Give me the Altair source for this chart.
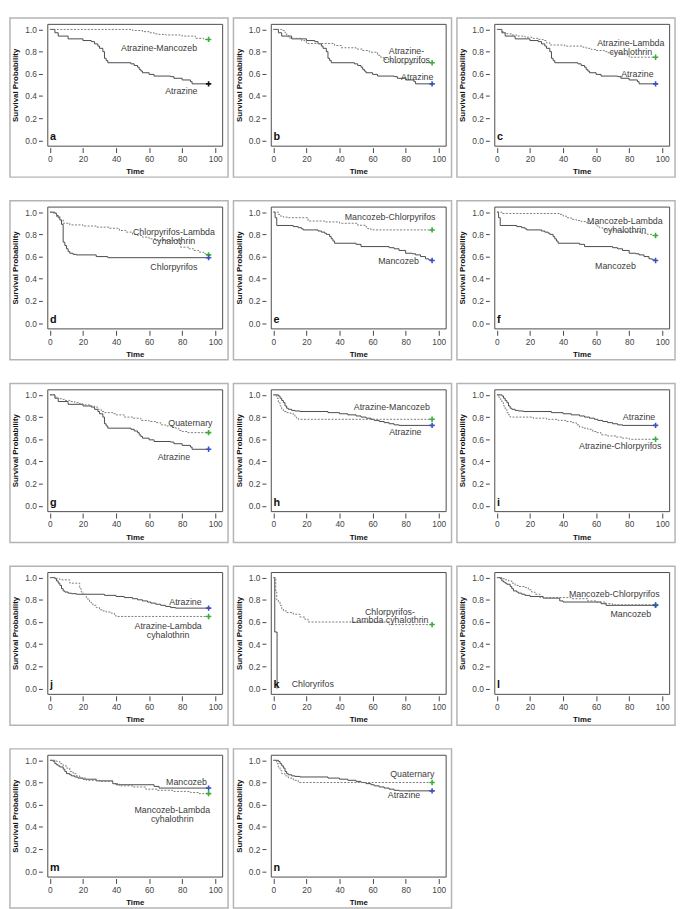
import altair as alt
import pandas as pd

# ---------------- Kaplan-Meier step curves (time, survival) ----------------
atz1_t = [0, 3, 5, 11, 20, 25, 27, 29, 30, 32, 33, 34, 35, 49, 51, 53, 54, 55, 56, 60, 63, 73, 75, 80, 85, 86, 96]
atz1_s = [1.0, 0.97, 0.94, 0.915, 0.90, 0.89, 0.87, 0.85, 0.83, 0.80, 0.74, 0.72, 0.70, 0.69, 0.675, 0.66, 0.64, 0.625, 0.61, 0.595, 0.58, 0.575, 0.56, 0.545, 0.53, 0.51, 0.51]

amz1_t = [0, 50, 56, 60, 63, 66, 70, 80, 88, 93, 96]
amz1_s = [1.0, 0.99, 0.98, 0.97, 0.96, 0.955, 0.95, 0.94, 0.92, 0.91, 0.91]

ach1_t = [0, 5, 7, 8, 9, 10, 17, 19, 20, 37, 41, 50, 54, 58, 63, 65, 67, 70, 72, 96]
ach1_s = [1.0, 0.99, 0.97, 0.95, 0.93, 0.92, 0.90, 0.89, 0.873, 0.855, 0.835, 0.823, 0.81, 0.795, 0.767, 0.746, 0.73, 0.717, 0.70, 0.70]

alc1_t = [0, 3, 4, 6, 9, 12, 17, 21, 25, 28, 30, 32, 41, 52, 54, 57, 60, 65, 67, 75, 79, 80, 96]
alc1_s = [1.0, 0.98, 0.97, 0.96, 0.95, 0.94, 0.93, 0.92, 0.91, 0.90, 0.88, 0.86, 0.85, 0.84, 0.83, 0.82, 0.81, 0.80, 0.79, 0.78, 0.77, 0.75, 0.75]

chl1_t = [0, 3, 4, 5, 6, 7, 8, 9, 10, 11, 12, 14, 16, 28, 35, 96]
chl1_s = [1.0, 0.99, 0.97, 0.95, 0.93, 0.89, 0.73, 0.70, 0.67, 0.645, 0.63, 0.62, 0.615, 0.60, 0.59, 0.59]

clc1_t = [0, 2, 4, 6, 8, 12, 20, 28, 36, 42, 46, 50, 53, 56, 60, 64, 79, 84, 87, 90, 93, 96]
clc1_s = [1.0, 0.99, 0.96, 0.93, 0.90, 0.885, 0.875, 0.865, 0.855, 0.835, 0.82, 0.80, 0.79, 0.775, 0.76, 0.745, 0.685, 0.67, 0.655, 0.64, 0.625, 0.615]

mz1_t = [0, 1, 2, 12, 15, 17, 18, 27, 29, 31, 32, 34, 35, 36, 37, 50, 53, 70, 73, 76, 80, 84, 86, 89, 92, 94, 96]
mz1_s = [1.0, 0.95, 0.88, 0.87, 0.86, 0.85, 0.84, 0.83, 0.82, 0.81, 0.80, 0.78, 0.76, 0.74, 0.72, 0.71, 0.69, 0.68, 0.67, 0.655, 0.63, 0.625, 0.615, 0.60, 0.58, 0.57, 0.565]

mch1_t = [0, 3, 4, 6, 9, 21, 31, 40, 51, 56, 57, 59, 96]
mch1_s = [1.0, 0.98, 0.965, 0.955, 0.95, 0.92, 0.912, 0.90, 0.882, 0.867, 0.852, 0.84, 0.84]

mlc1_t = [0, 3, 38, 40, 42, 45, 48, 51, 54, 55, 60, 62, 64, 66, 75, 87, 91, 94, 96]
mlc1_s = [1.0, 0.988, 0.98, 0.965, 0.95, 0.935, 0.925, 0.915, 0.905, 0.897, 0.876, 0.86, 0.847, 0.838, 0.823, 0.81, 0.80, 0.79, 0.79]

q1_t = [0, 3, 4, 6, 7, 9, 12, 15, 18, 20, 24, 27, 29, 31, 33, 38, 40, 45, 50, 55, 60, 64, 67, 70, 74, 76, 78, 80, 83, 96]
q1_s = [1.0, 0.98, 0.97, 0.965, 0.96, 0.95, 0.94, 0.93, 0.92, 0.91, 0.90, 0.89, 0.87, 0.85, 0.84, 0.83, 0.82, 0.80, 0.79, 0.77, 0.76, 0.75, 0.73, 0.72, 0.71, 0.70, 0.68, 0.67, 0.66, 0.66]

atz2_t = [0, 3, 4, 5, 6, 7, 8, 9, 11, 13, 16, 33, 40, 45, 50, 53, 56, 59, 61, 64, 67, 70, 73, 76, 96]
atz2_s = [1.0, 0.99, 0.97, 0.95, 0.93, 0.90, 0.88, 0.87, 0.86, 0.855, 0.85, 0.84, 0.83, 0.82, 0.81, 0.80, 0.79, 0.78, 0.77, 0.76, 0.75, 0.74, 0.73, 0.725, 0.725]

amz2_t = [0, 2, 3, 4, 5, 6, 8, 10, 12, 13, 14, 15, 96]
amz2_s = [1.0, 0.97, 0.93, 0.90, 0.87, 0.85, 0.84, 0.835, 0.82, 0.80, 0.79, 0.78, 0.78]

ach2_t = [0, 1, 2, 3, 4, 5, 6, 7, 8, 22, 30, 37, 42, 45, 48, 50, 52, 55, 58, 60, 63, 67, 72, 76, 80, 96]
ach2_s = [1.0, 0.98, 0.96, 0.93, 0.90, 0.87, 0.84, 0.82, 0.80, 0.79, 0.78, 0.77, 0.76, 0.75, 0.73, 0.71, 0.70, 0.69, 0.67, 0.66, 0.64, 0.63, 0.62, 0.61, 0.60, 0.60]

alc2_t = [0, 4, 6, 12, 18, 19, 20, 22, 23, 24, 25, 26, 28, 30, 32, 34, 37, 39, 40, 96]
alc2_s = [1.0, 0.99, 0.98, 0.95, 0.90, 0.87, 0.85, 0.82, 0.80, 0.78, 0.77, 0.75, 0.73, 0.71, 0.70, 0.69, 0.68, 0.66, 0.65, 0.65]

chl2_t = [0, 0.8, 2.2]
chl2_s = [1.0, 0.51, 0.0]

clc2_t = [0, 1.4, 2, 3, 4, 5, 6, 8, 12, 16, 19, 21, 70, 96]
clc2_s = [1.0, 0.87, 0.80, 0.78, 0.75, 0.72, 0.70, 0.685, 0.67, 0.645, 0.625, 0.60, 0.577, 0.577]

mz2_t = [0, 2, 3, 4, 5, 6, 8, 9, 10, 12, 13, 15, 17, 20, 28, 38, 40, 63, 66, 96]
mz2_s = [1.0, 0.99, 0.97, 0.96, 0.95, 0.94, 0.92, 0.90, 0.88, 0.87, 0.86, 0.85, 0.84, 0.83, 0.815, 0.79, 0.78, 0.765, 0.75, 0.75]

mch2_t = [0, 3, 5, 7, 9, 11, 13, 17, 19, 21, 23, 26, 45, 55, 60, 66, 70, 96]
mch2_s = [1.0, 0.99, 0.98, 0.97, 0.95, 0.93, 0.92, 0.91, 0.89, 0.87, 0.85, 0.82, 0.81, 0.79, 0.78, 0.765, 0.755, 0.755]

mlc2_t = [0, 4, 6, 8, 10, 12, 14, 16, 18, 22, 30, 38, 42, 50, 58, 65, 75, 85, 90, 96]
mlc2_s = [1.0, 0.99, 0.97, 0.95, 0.93, 0.90, 0.88, 0.86, 0.84, 0.82, 0.81, 0.79, 0.77, 0.76, 0.74, 0.73, 0.72, 0.71, 0.70, 0.70]

q2_t = [0, 2, 3, 4, 5, 7, 9, 12, 15, 96]
q2_s = [1.0, 0.97, 0.94, 0.91, 0.88, 0.86, 0.84, 0.82, 0.80, 0.80]

CURVES = {
    "atz1": (atz1_t, atz1_s), "amz1": (amz1_t, amz1_s), "ach1": (ach1_t, ach1_s),
    "alc1": (alc1_t, alc1_s), "chl1": (chl1_t, chl1_s), "clc1": (clc1_t, clc1_s),
    "mz1": (mz1_t, mz1_s), "mch1": (mch1_t, mch1_s), "mlc1": (mlc1_t, mlc1_s),
    "q1": (q1_t, q1_s), "atz2": (atz2_t, atz2_s), "amz2": (amz2_t, amz2_s),
    "ach2": (ach2_t, ach2_s), "alc2": (alc2_t, alc2_s), "chl2": (chl2_t, chl2_s),
    "clc2": (clc2_t, clc2_s), "mz2": (mz2_t, mz2_s), "mch2": (mch2_t, mch2_s),
    "mlc2": (mlc2_t, mlc2_s), "q2": (q2_t, q2_s),
}

# panel letter, solid curve, dashed curve, end-marker colour of the solid curve
panel_letters = ["a", "b", "c", "d", "e", "f", "g", "h", "i", "j", "k", "l", "m", "n"]
panel_solid = ["atz1", "atz1", "atz1", "chl1", "mz1", "mz1", "atz1", "atz2", "atz2", "atz2", "chl2", "mz2", "mz2", "atz2"]
panel_dashed = ["amz1", "ach1", "alc1", "clc1", "mch1", "mlc1", "q1", "amz2", "ach2", "alc2", "clc2", "mch2", "mlc2", "q2"]
panel_solid_marker = ["#111111", "#3a4fc4", "#3a4fc4", "#3a4fc4", "#3a4fc4", "#3a4fc4", "#3a4fc4",
                      "#3a4fc4", "#3a4fc4", "#3a4fc4", "", "#3a4fc4", "#3a4fc4", "#3a4fc4"]
DASHED_MARKER = "#35b035"

# curve annotations: (text, time, survival) -- "\n" splits a two-line label
LABELS = {
    "a": [("Atrazine-Mancozeb", 66, 0.83), ("Atrazine", 79.5, 0.445)],
    "b": [("Atrazine-\nChlorpyrifos", 80.5, 0.808), ("Atrazine", 87, 0.575)],
    "c": [("Atrazine-Lambda\ncyahlothrin", 81, 0.875), ("Atrazine", 85, 0.60)],
    "d": [("Chlorpyrifos-Lambda\ncyhalothrin", 75, 0.818), ("Chlorpyrifos", 75, 0.507)],
    "e": [("Mancozeb-Chlorpyrifos", 70.6, 0.956), ("Mancozeb", 75.7, 0.558)],
    "f": [("Mancozeb-Lambda\ncyhalothrin", 77.4, 0.918), ("Mancozeb", 71.7, 0.513)],
    "g": [("Quaternary", 85, 0.743), ("Atrazine", 75, 0.438)],
    "h": [("Atrazine-Mancozeb", 71.6, 0.886), ("Atrazine", 79.8, 0.665)],
    "i": [("Atrazine", 86, 0.80), ("Atrazine-Chlorpyrifos", 74.6, 0.537)],
    "j": [("Atrazine", 82, 0.784), ("Atrazine-Lambda\ncyhalothrin", 71.5, 0.563)],
    "k": [("Chlorpyrifos-\nLambda cyhalothrin", 70.5, 0.694), ("Chloryrifos", 23.8, 0.044)],
    "l": [("Mancozeb-Chlorpyrifos", 71, 0.852), ("Mancozeb", 81, 0.669)],
    "m": [("Mancozeb", 82.6, 0.80), ("Mancozeb-Lambda\ncyhalothrin", 74, 0.55)],
    "n": [("Quaternary", 84, 0.877), ("Atrazine", 79, 0.69)],
}

FONT = "Liberation Sans"
W, H = 178, 124

x_scale = alt.Scale(domain=[-1.6, 104.2], nice=False, zero=False)
y_scale = alt.Scale(domain=[-0.047, 1.05], nice=False, zero=False)

x_axis = alt.Axis(values=[0, 20, 40, 60, 80, 100], title="Time", offset=2, tickSize=5,
                  labelOverlap=False, titlePadding=5)
y_axis = alt.Axis(values=[0, 0.2, 0.4, 0.6, 0.8, 1.0], format=".1f", title="Survival Probability",
                  offset=5, tickSize=4, labelOverlap=False, titlePadding=5)


def make_panel(i):
    letter = panel_letters[i]
    st, ss = CURVES[panel_solid[i]]
    dt, ds = CURVES[panel_dashed[i]]
    df_s = pd.DataFrame({"t": st, "s": ss})
    df_d = pd.DataFrame({"t": dt, "s": ds})
    X = alt.X("t:Q", scale=x_scale, axis=x_axis)
    Y = alt.Y("s:Q", scale=y_scale, axis=y_axis)

    box = alt.Chart(pd.DataFrame({"k": [0]})).mark_rect(
        filled=False, stroke="#b4b4b4", strokeWidth=1.5
    ).encode(x=alt.value(-38), x2=alt.value(W + 6), y=alt.value(-6), y2=alt.value(H + 32))

    solid = alt.Chart(df_s).mark_line(
        interpolate="step-after", color="#4a4a4a", strokeWidth=1
    ).encode(x=X, y=Y)

    dashed = alt.Chart(df_d).mark_line(
        interpolate="step-after", color="#7a7a7a", strokeWidth=1, strokeDash=[2, 1.5]
    ).encode(x=X, y=Y)

    mk_t, mk_s, mk_c = [dt[-1]], [ds[-1]], [DASHED_MARKER]
    if panel_solid_marker[i]:
        mk_t.append(st[-1]); mk_s.append(ss[-1]); mk_c.append(panel_solid_marker[i])
    markers = alt.Chart(pd.DataFrame({"t": mk_t, "s": mk_s, "c": mk_c})).mark_point(
        shape="M -1 0 L 1 0 M 0 -1 L 0 1", filled=False, size=30, strokeWidth=1.6, opacity=1
    ).encode(x=X, y=Y, color=alt.Color("c:N", scale=None))

    labs = LABELS[letter]
    df_l = pd.DataFrame({"label": [l[0] for l in labs], "t": [l[1] for l in labs],
                         "s": [l[2] for l in labs]})
    texts = alt.Chart(df_l).mark_text(
        font=FONT, fontSize=9, color="#3c3c3c", align="center", baseline="middle",
        lineBreak="\n", lineHeight=9
    ).encode(x=X, y=Y, text="label:N")

    let = alt.Chart(pd.DataFrame({"label": [letter], "t": [0], "s": [0.03]})).mark_text(
        font=FONT, fontSize=11, fontWeight="bold", color="#111111", align="left",
        baseline="middle"
    ).encode(x=X, y=Y, text="label:N")

    return alt.layer(box, solid, dashed, markers, texts, let).properties(width=W, height=H)


panels = [make_panel(i) for i in range(len(panel_letters))]
chart = alt.concat(*panels, columns=3, spacing={"row": 62, "column": 49.5}, bounds="flush").properties(
    padding=0, background="white"
).configure_view(
    stroke="#4a4a4a", strokeWidth=1, fill="white"
).configure_axis(
    grid=False, domain=False, labelOverlap=False, labelFlush=False,
    tickColor="#444444", labelColor="#444444", labelFont=FONT, labelFontSize=8.5,
    labelPadding=2, titleFont=FONT, titleFontSize=8, titleFontWeight="bold",
    titleColor="#111111"
)

chart.save("out.html", embed_options={"renderer": "svg", "actions": False})
